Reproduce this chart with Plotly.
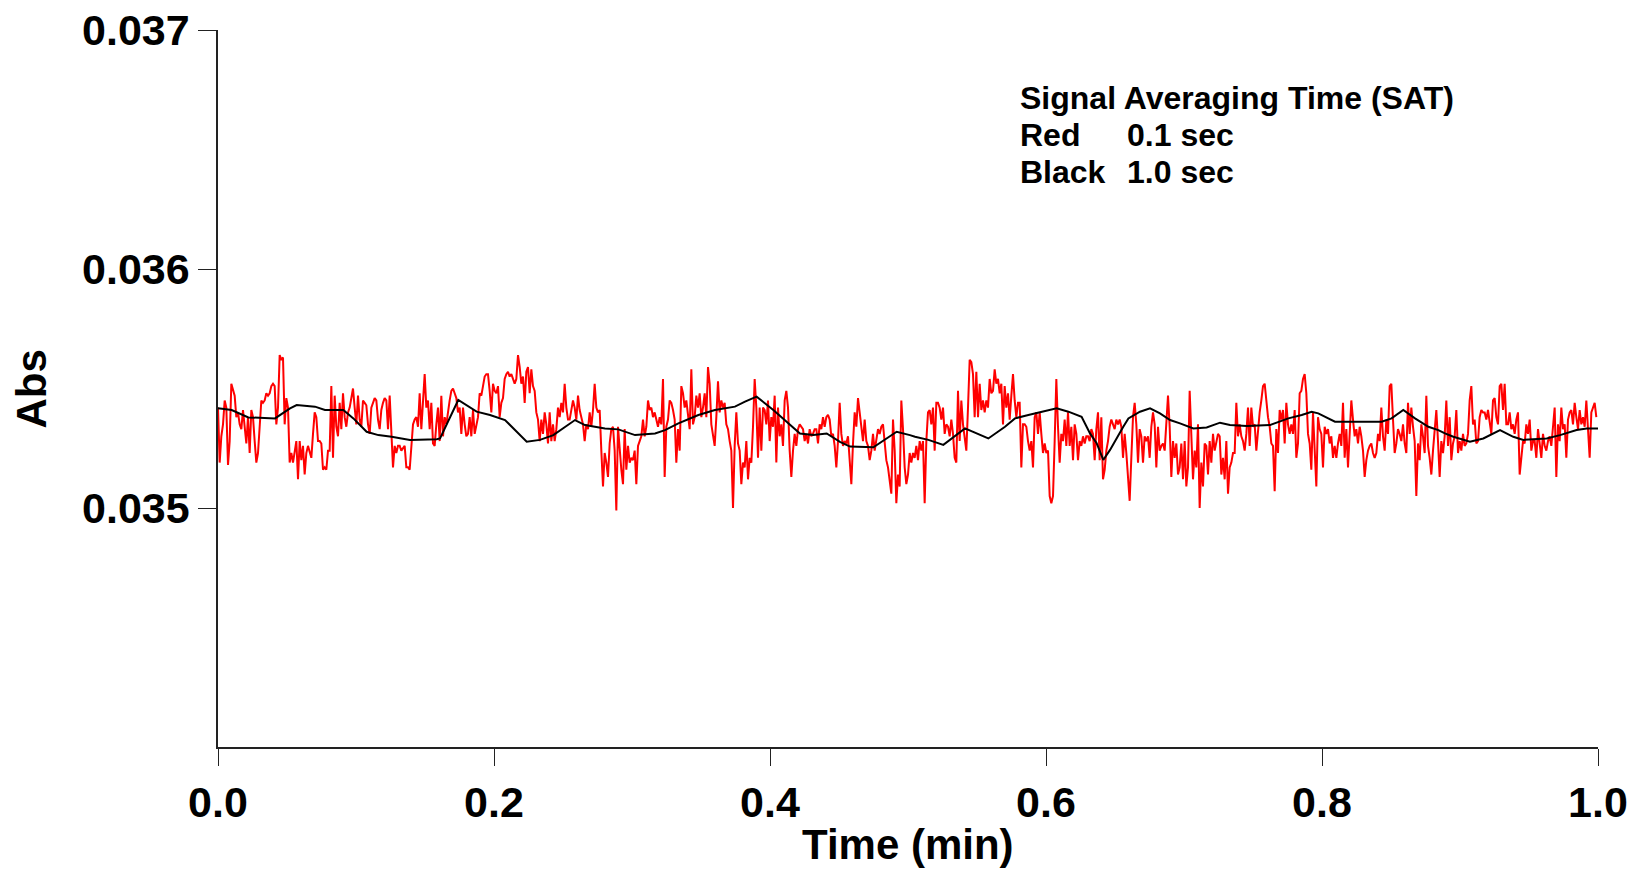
import plotly.graph_objects as go

# ---------------- data ----------------
# red trace: SAT 0.1 s, sampled on a uniform time grid (minutes)
red_step_min = 1.0 / 828
red_abs = [
    # 0.000 - 0.128 min
    0.03542, 0.03519, 0.03530, 0.03535, 0.03545, 0.03542, 0.03518, 0.03528, 0.03552, 0.03549,
    0.03547, 0.03538, 0.03540, 0.03535, 0.03533, 0.03541, 0.03535, 0.03527, 0.03538, 0.03523,
    0.03541, 0.03538, 0.03528, 0.03519, 0.03523, 0.03535, 0.03545, 0.03544, 0.03545, 0.03548,
    0.03547, 0.03548, 0.03551, 0.03552, 0.03551, 0.03535, 0.03542, 0.03564, 0.03562, 0.03563,
    0.03535, 0.03546, 0.03542, 0.03519, 0.03523, 0.03519, 0.03523, 0.03528, 0.03512, 0.03528,
    0.03520, 0.03526, 0.03514, 0.03523, 0.03526, 0.03523, 0.03521, 0.03531, 0.03540, 0.03538,
    0.03528, 0.03528, 0.03527, 0.03516, 0.03517, 0.03516, 0.03524, 0.03524, 0.03551, 0.03521,
    0.03547, 0.03534, 0.03530, 0.03544, 0.03533, 0.03548, 0.03538, 0.03534, 0.03540, 0.03542,
    0.03547, 0.03550, 0.03542, 0.03535, 0.03547, 0.03537, 0.03534, 0.03545, 0.03544, 0.03543,
    0.03535, 0.03531, 0.03542, 0.03544, 0.03546, 0.03545, 0.03537, 0.03533, 0.03541, 0.03544,
    0.03546, 0.03545, 0.03533, 0.03547, 0.03531, 0.03517,
    # 0.128 - 0.255 min
    0.03526, 0.03523, 0.03526, 0.03526, 0.03524, 0.03525, 0.03526, 0.03517, 0.03517, 0.03516,
    0.03526, 0.03535, 0.03537, 0.03538, 0.03534, 0.03548, 0.03533, 0.03545, 0.03556, 0.03542,
    0.03545, 0.03533, 0.03544, 0.03527, 0.03526, 0.03535, 0.03542, 0.03528, 0.03547, 0.03530,
    0.03538, 0.03535, 0.03541, 0.03545, 0.03549, 0.03550, 0.03548, 0.03546, 0.03540, 0.03542,
    0.03531, 0.03542, 0.03535, 0.03530, 0.03531, 0.03538, 0.03530, 0.03541, 0.03531, 0.03535,
    0.03538, 0.03548, 0.03547, 0.03551, 0.03555, 0.03556, 0.03556, 0.03549, 0.03540, 0.03552,
    0.03549, 0.03548, 0.03551, 0.03538, 0.03544, 0.03546, 0.03554, 0.03556, 0.03557, 0.03555,
    0.03556, 0.03554, 0.03552, 0.03554, 0.03564, 0.03559, 0.03552, 0.03555, 0.03544, 0.03557,
    0.03559, 0.03548, 0.03558, 0.03551, 0.03549, 0.03540, 0.03537, 0.03528, 0.03537, 0.03531,
    0.03540, 0.03535, 0.03527, 0.03540, 0.03528, 0.03535, 0.03528, 0.03533, 0.03542, 0.03538,
    0.03544, 0.03540, 0.03552, 0.03542, 0.03537,
    # 0.255 - 0.382 min
    0.03537, 0.03541, 0.03545, 0.03542, 0.03537, 0.03547, 0.03541, 0.03538, 0.03535, 0.03528,
    0.03535, 0.03533, 0.03540, 0.03534, 0.03541, 0.03552, 0.03542, 0.03540, 0.03541, 0.03524,
    0.03509, 0.03523, 0.03519, 0.03513, 0.03527, 0.03533, 0.03534, 0.03524, 0.03499, 0.03534,
    0.03524, 0.03516, 0.03510, 0.03533, 0.03516, 0.03526, 0.03519, 0.03521, 0.03520, 0.03524,
    0.03510, 0.03526, 0.03528, 0.03530, 0.03537, 0.03530, 0.03534, 0.03545, 0.03541, 0.03542,
    0.03538, 0.03540, 0.03537, 0.03534, 0.03538, 0.03535, 0.03554, 0.03513, 0.03534, 0.03537,
    0.03545, 0.03544, 0.03541, 0.03537, 0.03519, 0.03533, 0.03524, 0.03551, 0.03548, 0.03542,
    0.03545, 0.03538, 0.03533, 0.03558, 0.03535, 0.03538, 0.03547, 0.03542, 0.03548, 0.03538,
    0.03542, 0.03548, 0.03538, 0.03559, 0.03552, 0.03535, 0.03531, 0.03526, 0.03538, 0.03553,
    0.03540, 0.03545, 0.03542, 0.03544, 0.03535, 0.03533, 0.03528, 0.03524, 0.03500, 0.03526,
    0.03540, 0.03527, 0.03524, 0.03510, 0.03519,
    # 0.382 - 0.509 min
    0.03517, 0.03528, 0.03512, 0.03521, 0.03519, 0.03534, 0.03554, 0.03542, 0.03521, 0.03542,
    0.03524, 0.03542, 0.03541, 0.03535, 0.03545, 0.03528, 0.03538, 0.03534, 0.03547, 0.03519,
    0.03542, 0.03530, 0.03535, 0.03526, 0.03545, 0.03549, 0.03542, 0.03524, 0.03513, 0.03524,
    0.03531, 0.03526, 0.03533, 0.03535, 0.03534, 0.03533, 0.03528, 0.03531, 0.03527, 0.03533,
    0.03530, 0.03531, 0.03533, 0.03533, 0.03527, 0.03535, 0.03533, 0.03538, 0.03534, 0.03538,
    0.03539, 0.03537, 0.03530, 0.03531, 0.03526, 0.03517, 0.03528, 0.03544, 0.03531, 0.03526,
    0.03528, 0.03527, 0.03530, 0.03520, 0.03510, 0.03527, 0.03540, 0.03534, 0.03546, 0.03540,
    0.03535, 0.03528, 0.03537, 0.03528, 0.03526, 0.03520, 0.03524, 0.03531, 0.03524, 0.03528,
    0.03533, 0.03531, 0.03534, 0.03535, 0.03528, 0.03520, 0.03517, 0.03510, 0.03506, 0.03537,
    0.03524, 0.03502, 0.03514, 0.03509, 0.03545, 0.03533, 0.03517, 0.03510, 0.03514, 0.03523,
    0.03519, 0.03523, 0.03521, 0.03526, 0.03520,
    # 0.509 - 0.635 min
    0.03528, 0.03524, 0.03528, 0.03502, 0.03528, 0.03540, 0.03541, 0.03535, 0.03542, 0.03524,
    0.03544, 0.03544, 0.03542, 0.03537, 0.03542, 0.03531, 0.03535, 0.03534, 0.03530, 0.03537,
    0.03531, 0.03521, 0.03519, 0.03549, 0.03528, 0.03545, 0.03535, 0.03528, 0.03524, 0.03542,
    0.03562, 0.03561, 0.03556, 0.03538, 0.03557, 0.03538, 0.03552, 0.03541, 0.03545, 0.03540,
    0.03545, 0.03542, 0.03554, 0.03548, 0.03549, 0.03558, 0.03552, 0.03554, 0.03548, 0.03552,
    0.03535, 0.03551, 0.03542, 0.03548, 0.03537, 0.03547, 0.03556, 0.03545, 0.03538, 0.03544,
    0.03544, 0.03517, 0.03535, 0.03535, 0.03534, 0.03528, 0.03524, 0.03528, 0.03517, 0.03538,
    0.03540, 0.03531, 0.03540, 0.03531, 0.03523, 0.03527, 0.03523, 0.03524, 0.03505, 0.03502,
    0.03505, 0.03528, 0.03554, 0.03534, 0.03519, 0.03531, 0.03528, 0.03537, 0.03526, 0.03540,
    0.03526, 0.03534, 0.03520, 0.03535, 0.03531, 0.03520, 0.03528, 0.03526, 0.03530, 0.03527,
    0.03530, 0.03530, 0.03528, 0.03533, 0.03531,
    # 0.635 - 0.762 min
    0.03520, 0.03533, 0.03540, 0.03520, 0.03538, 0.03512, 0.03516, 0.03524, 0.03528, 0.03534,
    0.03537, 0.03535, 0.03533, 0.03537, 0.03535, 0.03537, 0.03534, 0.03521, 0.03531, 0.03523,
    0.03514, 0.03503, 0.03521, 0.03538, 0.03544, 0.03535, 0.03519, 0.03533, 0.03530, 0.03519,
    0.03530, 0.03528, 0.03530, 0.03521, 0.03534, 0.03540, 0.03535, 0.03517, 0.03534, 0.03524,
    0.03526, 0.03527, 0.03524, 0.03535, 0.03547, 0.03534, 0.03513, 0.03528, 0.03521, 0.03527,
    0.03514, 0.03517, 0.03527, 0.03512, 0.03528, 0.03509, 0.03517, 0.03549, 0.03528, 0.03512,
    0.03524, 0.03517, 0.03535, 0.03500, 0.03519, 0.03509, 0.03527, 0.03526, 0.03514, 0.03528,
    0.03519, 0.03531, 0.03524, 0.03528, 0.03531, 0.03530, 0.03514, 0.03521, 0.03512, 0.03528,
    0.03506, 0.03517, 0.03519, 0.03523, 0.03523, 0.03544, 0.03530, 0.03535, 0.03530, 0.03528,
    0.03524, 0.03531, 0.03542, 0.03526, 0.03542, 0.03534, 0.03535, 0.03524, 0.03533, 0.03540,
    0.03545, 0.03551, 0.03552, 0.03544, 0.03538,
    # 0.762 - 0.889 min
    0.03534, 0.03527, 0.03526, 0.03507, 0.03533, 0.03523, 0.03541, 0.03537, 0.03541, 0.03527,
    0.03544, 0.03535, 0.03531, 0.03535, 0.03531, 0.03541, 0.03521, 0.03527, 0.03548, 0.03549,
    0.03554, 0.03556, 0.03548, 0.03531, 0.03527, 0.03516, 0.03540, 0.03527, 0.03509, 0.03538,
    0.03533, 0.03531, 0.03517, 0.03534, 0.03531, 0.03533, 0.03527, 0.03530, 0.03521, 0.03526,
    0.03521, 0.03527, 0.03531, 0.03526, 0.03544, 0.03521, 0.03533, 0.03517, 0.03533, 0.03545,
    0.03537, 0.03530, 0.03533, 0.03527, 0.03534, 0.03530, 0.03524, 0.03513, 0.03520, 0.03524,
    0.03526, 0.03527, 0.03523, 0.03521, 0.03523, 0.03531, 0.03528, 0.03542, 0.03530, 0.03524,
    0.03537, 0.03531, 0.03551, 0.03552, 0.03537, 0.03523, 0.03527, 0.03533, 0.03531, 0.03528,
    0.03535, 0.03527, 0.03523, 0.03544, 0.03531, 0.03542, 0.03534, 0.03528, 0.03505, 0.03527,
    0.03520, 0.03535, 0.03530, 0.03523, 0.03547, 0.03526, 0.03521, 0.03514, 0.03524, 0.03535,
    0.03541, 0.03528, 0.03513, 0.03528, 0.03523,
    # 0.889 - 1.000 min
    0.03530, 0.03545, 0.03526, 0.03538, 0.03520, 0.03527, 0.03530, 0.03541, 0.03523, 0.03528,
    0.03524, 0.03531, 0.03526, 0.03527, 0.03531, 0.03545, 0.03551, 0.03535, 0.03537, 0.03527,
    0.03528, 0.03538, 0.03541, 0.03540, 0.03540, 0.03537, 0.03541, 0.03535, 0.03531, 0.03545,
    0.03546, 0.03538, 0.03535, 0.03551, 0.03552, 0.03541, 0.03552, 0.03535, 0.03535, 0.03540,
    0.03533, 0.03535, 0.03531, 0.03537, 0.03540, 0.03514, 0.03520, 0.03528, 0.03527, 0.03535,
    0.03531, 0.03537, 0.03524, 0.03528, 0.03528, 0.03521, 0.03533, 0.03526, 0.03521, 0.03531,
    0.03526, 0.03524, 0.03528, 0.03530, 0.03526, 0.03534, 0.03542, 0.03513, 0.03535, 0.03528,
    0.03542, 0.03533, 0.03535, 0.03521, 0.03537, 0.03540, 0.03541, 0.03535, 0.03544, 0.03538,
    0.03533, 0.03541, 0.03535, 0.03538, 0.03534, 0.03545, 0.03535, 0.03521, 0.03540, 0.03542,
    0.03544, 0.03538,
]
red_time = [i * red_step_min for i in range(len(red_abs))]

# black trace: SAT 1.0 s
black_time = [
    0.0000, 0.0099, 0.0220, 0.0413, 0.0522, 0.0570, 0.0703, 0.0775, 0.0908, 0.0981,
    0.1077, 0.1162, 0.1258, 0.1391, 0.1585, 0.1609, 0.1741, 0.1874, 0.1971, 0.2080,
    0.2237, 0.2333, 0.2430, 0.2551, 0.2587, 0.2659, 0.2804, 0.2901, 0.3022, 0.3167,
    0.3239, 0.3336, 0.3481, 0.3601, 0.3746, 0.3819, 0.3903, 0.4024, 0.4145, 0.4217,
    0.4314, 0.4411, 0.4507, 0.4580, 0.4749, 0.4846, 0.4918, 0.5014, 0.5051, 0.5148,
    0.5256, 0.5413, 0.5582, 0.5703, 0.5775, 0.5872, 0.5969, 0.6077, 0.6162, 0.6258,
    0.6319, 0.6355, 0.6367, 0.6415, 0.6464, 0.6560, 0.6597, 0.6681, 0.6754, 0.6826,
    0.6899, 0.6971, 0.7068, 0.7164, 0.7261, 0.7333, 0.7454, 0.7623, 0.7659, 0.7756,
    0.7853, 0.7925, 0.7973, 0.8094, 0.8432, 0.8504, 0.8589, 0.8674, 0.8771, 0.8843,
    0.8891, 0.8952, 0.9072, 0.9169, 0.9290, 0.9386, 0.9459, 0.9628, 0.9725, 0.9845,
    0.9918, 1.0000,
]
black_abs = [
    0.035417, 0.035410, 0.035379, 0.035375, 0.035417, 0.035431, 0.035424, 0.035410, 0.035410, 0.035375,
    0.035319, 0.035305, 0.035298, 0.035285, 0.035288, 0.035291, 0.035452, 0.035403, 0.035389, 0.035368,
    0.035277, 0.035285, 0.035305, 0.035354, 0.035368, 0.035347, 0.035333, 0.035329, 0.035305, 0.035312,
    0.035326, 0.035354, 0.035389, 0.035410, 0.035424, 0.035445, 0.035466, 0.035410, 0.035347, 0.035312,
    0.035305, 0.035312, 0.035277, 0.035257, 0.035254, 0.035291, 0.035319, 0.035305, 0.035298, 0.035285,
    0.035264, 0.035333, 0.035291, 0.035340, 0.035375, 0.035389, 0.035403, 0.035417, 0.035403, 0.035382,
    0.035312, 0.035285, 0.035271, 0.035201, 0.035243, 0.035340, 0.035375, 0.035403, 0.035417, 0.035396,
    0.035368, 0.035354, 0.035333, 0.035337, 0.035357, 0.035347, 0.035343, 0.035347, 0.035354, 0.035375,
    0.035389, 0.035403, 0.035396, 0.035361, 0.035361, 0.035375, 0.035410, 0.035375, 0.035340, 0.035326,
    0.035312, 0.035298, 0.035277, 0.035291, 0.035326, 0.035298, 0.035285, 0.035291, 0.035305, 0.035326,
    0.035333, 0.035333,
]

x_ticks = [0.0, 0.2, 0.4, 0.6, 0.8, 1.0]
x_tick_labels = ["0.0", "0.2", "0.4", "0.6", "0.8", "1.0"]
y_ticks = [0.035, 0.036, 0.037]
y_tick_labels = ["0.035", "0.036", "0.037"]
x_range = [0.0, 1.0]
y_range = [0.034, 0.037]

x_title = "Time (min)"
y_title = "Abs"
note_title = "Signal Averaging Time (SAT)"
note_rows = [("Red", "0.1 sec"), ("Black", "1.0 sec")]

# ---------------- figure ----------------
FONT = "Liberation Sans, Arial, Helvetica, sans-serif"

fig = go.Figure()
fig.add_trace(go.Scatter(
    x=red_time, y=red_abs, mode="lines",
    line=dict(color="#FF0000", width=2), showlegend=False, name="SAT 0.1 sec",
))
fig.add_trace(go.Scatter(
    x=black_time, y=black_abs, mode="lines",
    line=dict(color="#000000", width=2), showlegend=False, name="SAT 1.0 sec",
))

fig.update_layout(
    width=1632, height=870,
    margin=dict(l=218, r=34, t=30, b=123, pad=0, autoexpand=False),
    plot_bgcolor="white", paper_bgcolor="white",
    font=dict(family=FONT, color="black"),
    showlegend=False,
)
fig.update_xaxes(
    range=x_range, tickvals=x_ticks, ticktext=x_tick_labels, automargin=False,
    showgrid=False, zeroline=False, showline=True, linecolor="#222222", linewidth=1.5,
    ticks="outside", ticklen=17, tickwidth=1.2, tickcolor="#222222",
    tickfont=dict(family=FONT, size=43, color="black", weight="bold"),
)
fig.update_yaxes(
    range=y_range, tickvals=y_ticks, ticktext=y_tick_labels, automargin=False,
    showgrid=False, zeroline=False, showline=True, linecolor="#222222", linewidth=1.5,
    ticks="outside", ticklen=18, tickwidth=1.2, tickcolor="#222222",
    tickfont=dict(family=FONT, size=43, color="black", weight="bold"),
)

ann = []
ann.append(dict(text=x_title, xref="paper", yref="paper", x=0.5, y=-0.1365,
                xanchor="center", yanchor="middle", showarrow=False,
                font=dict(family=FONT, size=42, color="black", weight="bold")))
ann.append(dict(text=y_title, xref="paper", yref="paper", x=-0.1348, y=0.5,
                xanchor="center", yanchor="middle", showarrow=False, textangle=-90,
                font=dict(family=FONT, size=42, color="black", weight="bold")))
note_font = dict(family=FONT, size=32, color="black", weight="bold")
ann.append(dict(text=note_title, xref="paper", yref="paper", x=0.5794, y=0.9056,
                xanchor="left", yanchor="middle", showarrow=False, font=note_font))
row_y = [0.8536, 0.8020]
for (label, value), yy in zip(note_rows, row_y):
    ann.append(dict(text=label, xref="paper", yref="paper", x=0.5794, y=yy,
                    xanchor="left", yanchor="middle", showarrow=False, font=note_font))
    ann.append(dict(text=value, xref="paper", yref="paper", x=0.6570, y=yy,
                    xanchor="left", yanchor="middle", showarrow=False, font=note_font))
fig.update_layout(annotations=ann)

fig.write_html(
    "out.html",
    config={"displayModeBar": False},
    post_script="document.body.style.margin='0';document.body.style.overflow='hidden';",
)
